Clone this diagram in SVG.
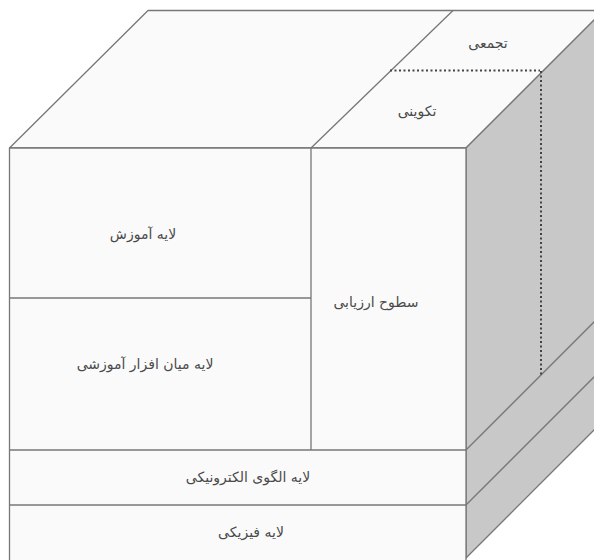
<svg xmlns="http://www.w3.org/2000/svg" width="594" height="560" viewBox="0 0 594 560">
<style>
.face{fill:#fafafa;stroke:#777;stroke-width:1.3;stroke-linejoin:round}
.side{fill:#c8c8c8;stroke:#777;stroke-width:1.3;stroke-linejoin:round}
.ln{fill:none;stroke:#777;stroke-width:1.3}
.dot{fill:none;stroke:#444;stroke-width:2;stroke-dasharray:2 2.5}
.t{font-family:"DejaVu Sans",sans-serif;font-size:14px;fill:#4a4a4a;text-anchor:middle;direction:rtl}
</style>
<rect width="594" height="560" fill="#fff"/>
<g id="top-face">
<polygon class="face" points="9.5,148 148,10.5 604,10.5 466,148"/>
</g>
<g id="right-face">
<polygon class="side" points="466,148 604,10 604,420 466,558"/>
</g>
<g id="front-face">
<rect class="face" x="9.5" y="148" width="456.5" height="420"/>
</g>
<g id="connectors">
<line class="ln" x1="311" y1="148" x2="453" y2="10.5"/>
<line class="ln" x1="311" y1="148" x2="311" y2="450"/>
<line class="ln" x1="9.5" y1="298" x2="311" y2="298"/>
<line class="ln" x1="9.5" y1="450" x2="466" y2="450"/>
<line class="ln" x1="9.5" y1="505" x2="466" y2="505"/>
<line class="ln" x1="466" y1="450" x2="604" y2="312"/>
<line class="ln" x1="466" y1="505" x2="604" y2="367"/>
<line class="dot" x1="390" y1="70.5" x2="540" y2="70.5"/>
<line class="dot" x1="541" y1="71" x2="541" y2="375"/>
</g>
<g id="n-tajmi"><text class="t" x="488" y="48">تجمعی</text></g>
<g id="n-takvini"><text class="t" x="417" y="116">تکوینی</text></g>
<g id="n-amoozesh"><text class="t" x="143" y="239">لایه آموزش</text></g>
<g id="n-sotooh"><text class="t" x="376" y="307">سطوح ارزیابی</text></g>
<g id="n-miyanafzar"><text class="t" x="145" y="369">لایه میان افزار آموزشی</text></g>
<g id="n-olgoo"><text class="t" x="248" y="482">لایه الگوی الکترونیکی</text></g>
<g id="n-fiziki"><text class="t" x="251" y="537">لایه فیزیکی</text></g>
</svg>
